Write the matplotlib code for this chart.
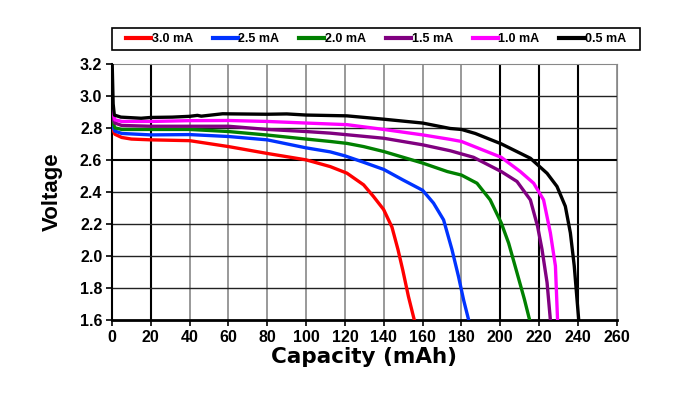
import numpy as np
import matplotlib.pyplot as plt
from matplotlib.patches import Rectangle

# capacity (mAh) / voltage (V)
cap_30 = [0, 1.5, 5, 10, 20, 40, 60, 80, 100, 112.4, 121, 129.6, 134.7, 139.9, 144.2, 147.3, 149.8, 152.7, 155.7]
v_30 = [2.80, 2.76, 2.74, 2.73, 2.725, 2.72, 2.683, 2.64, 2.60, 2.558, 2.517, 2.444, 2.371, 2.29, 2.18, 2.04, 1.91, 1.746, 1.6]

cap_25 = [0, 1.5, 5, 20, 40, 60, 80, 100, 112.4, 120, 129.6, 140, 149.8, 160, 165.6, 170.8, 175.1, 178.5, 181.1, 183.7]
v_25 = [2.82, 2.78, 2.765, 2.756, 2.758, 2.746, 2.725, 2.675, 2.65, 2.625, 2.585, 2.54, 2.475, 2.41, 2.33, 2.225, 2.04, 1.87, 1.725, 1.6]

cap_20 = [0, 1.5, 5, 20, 40, 60, 80, 100, 112.4, 121, 129.6, 140, 160, 172.7, 180, 188, 194.8, 200.5, 204.3, 208.6, 212.4, 215.1]
v_20 = [2.85, 2.80, 2.79, 2.79, 2.79, 2.777, 2.755, 2.73, 2.715, 2.703, 2.683, 2.652, 2.58, 2.527, 2.505, 2.454, 2.35, 2.206, 2.08, 1.895, 1.73, 1.6]

cap_15 = [0, 1.5, 5, 20, 40, 60, 80, 100, 112.4, 140, 160, 174.2, 186.2, 200.5, 208.6, 215.5, 219.2, 221.5, 224.1, 225.8]
v_15 = [2.87, 2.83, 2.815, 2.81, 2.81, 2.81, 2.79, 2.777, 2.767, 2.735, 2.694, 2.657, 2.616, 2.527, 2.465, 2.35, 2.185, 2.04, 1.833, 1.6]

cap_10 = [0, 1.5, 5, 20, 40, 60, 80, 100, 121, 140, 160, 174.2, 180, 200.5, 210.3, 217.2, 222.3, 225.8, 228.4, 229.5]
v_10 = [2.92, 2.85, 2.84, 2.84, 2.845, 2.846, 2.84, 2.83, 2.82, 2.79, 2.756, 2.728, 2.715, 2.616, 2.527, 2.454, 2.35, 2.144, 1.937, 1.6]

cap_05 = [0, 0.6, 1.2, 4.6, 15, 20, 31, 40, 44, 46, 57, 60, 80, 90, 100, 121, 140, 160, 174.2, 180,
          187.1, 200.5, 215.5, 224.1, 229.2, 233.5, 236.1, 238.1, 240.4]
v_05 = [3.25, 2.95, 2.88, 2.867, 2.86, 2.865, 2.867, 2.872, 2.878, 2.873, 2.888, 2.8875, 2.885, 2.887, 2.88,
        2.875, 2.854, 2.83, 2.796, 2.79, 2.765, 2.70, 2.61, 2.516, 2.434, 2.31, 2.144, 1.937, 1.6]

labels = ['3.0 mA', '2.5 mA', '2.0 mA', '1.5 mA', '1.0 mA', '0.5 mA']
colors = ['#ff0000', '#0033ff', '#008000', '#800080', '#ff00ff', '#000000']
caps = [cap_30, cap_25, cap_20, cap_15, cap_10, cap_05]
volts = [v_30, v_25, v_20, v_15, v_10, v_05]

x_ticks = list(range(0, 261, 20))
y_ticks = [1.6, 1.8, 2.0, 2.2, 2.4, 2.6, 2.8, 3.0, 3.2]

arial = 'Liberation Sans'

fig = plt.figure(figsize=(6.93, 3.94), dpi=100)
ax = fig.add_axes([0.1616, 0.188, 0.7284, 0.650])

# grid: a few lines drawn darker like in the original
for x in x_ticks[1:]:
    dark = x in (20, 200, 220, 240)
    ax.axvline(x, color='black' if dark else '#888888', lw=1.5 if dark else 1.2, zorder=1)
for y in y_ticks[1:-1]:
    dark = y == 2.6
    ax.axhline(y, color='black' if dark else '#222222', lw=1.5 if dark else 1.0, zorder=1)

for c, v, lab, col in zip(caps, volts, labels, colors):
    ax.plot(c, v, color=col, lw=2.4, label=lab, zorder=3, solid_joinstyle='round')

ax.set_xlim(0, 260)
ax.set_ylim(1.6, 3.2)
ax.set_xticks(x_ticks)
ax.set_yticks(y_ticks)
ax.set_yticklabels([f'{y:.1f}' for y in y_ticks])
ax.tick_params(labelsize=11.5, length=4, width=1.2, direction='out', pad=3)
for t in ax.get_xticklabels() + ax.get_yticklabels():
    t.set_fontweight('bold')
    t.set_family(arial)

ax.spines['left'].set_color('black')
ax.spines['bottom'].set_color('black')
ax.spines['bottom'].set_linewidth(2)
ax.spines['left'].set_linewidth(1.5)
ax.spines['top'].set_color('#888888')
ax.spines['right'].set_color('#888888')

ax.set_xlabel('Capacity (mAh)', fontsize=15.5, fontweight='bold', labelpad=2)
ax.set_ylabel('Voltage', fontsize=16, fontweight='bold', family=arial, labelpad=12)

# legend box spans a bit wider than the plot
fig.patches.append(Rectangle((112 / 693, 1 - 50 / 394), 528 / 693, 22 / 394,
                             transform=fig.transFigure, fill=False, ec='black', lw=1.2))
leg = fig.legend(loc='center', bbox_to_anchor=(376 / 693, 1 - 39 / 394),
                 ncol=6, frameon=False, handlelength=2.0, handletextpad=0.05,
                 columnspacing=1.6, prop={'family': arial, 'weight': 'bold', 'size': 9})
for h in leg.get_lines():
    h.set_linewidth(3)

fig.savefig('out.png', dpi=100)
